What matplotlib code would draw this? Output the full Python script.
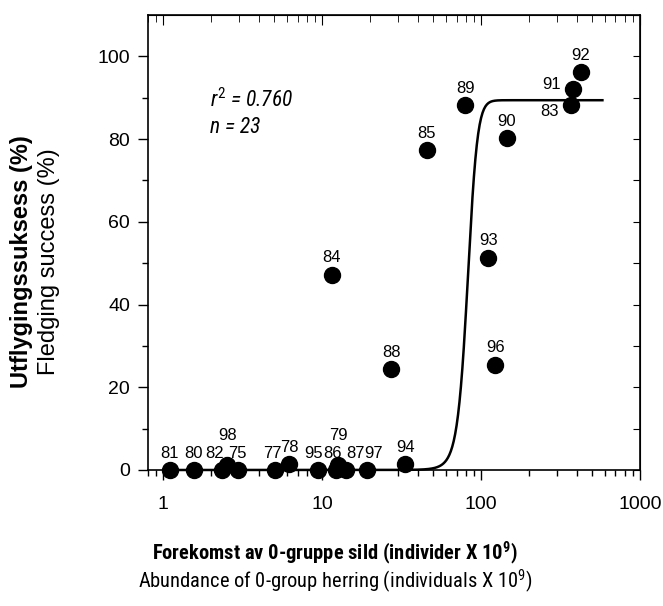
import matplotlib
matplotlib.use("Agg")
import matplotlib.pyplot as plt
import numpy as np

NARROW = 'Roboto Condensed'
plt.rcParams['font.family'] = ['Liberation Sans', 'DejaVu Sans']
plt.rcParams['mathtext.fontset'] = 'custom'
plt.rcParams['mathtext.rm'] = NARROW
plt.rcParams['mathtext.it'] = NARROW + ':italic'
plt.rcParams['mathtext.bf'] = NARROW + ':bold'

# year labels (19xx), herring abundance (x 10^9) and fledging success (%)
years = ['81', '80', '82', '98', '75', '77', '78', '95', '86', '79', '87', '97', '94',
         '84', '88', '85', '89', '93', '96', '90', '83', '91', '92']
abundance = [1.1, 1.55, 2.34, 2.52, 2.93, 5.06, 6.2, 9.35, 12.2, 12.6, 14.2, 19.1, 33.3,
             11.5, 27.2, 45.5, 79.3, 111, 123, 145, 368, 377, 424]
success = [0, 0, 0, 1.2, 0, 0, 1.4, 0, 0, 1.2, 0, 0, 1.4,
           47.2, 24.4, 77.3, 88.2, 51.3, 25.4, 80.2, 88.2, 92.2, 96.2]

# fitted sigmoid (as drawn in the figure)
fit_a, fit_x0, fit_b = 89.4, 82.0, 6.0
fit_range = (1.1, 580)

# label offsets in pixels where the default (straight above) is not used
label_offsets = {'82': (-7, 17), '98': (0, 30), '79': (0, 30), '87': (9, 17),
                 '97': (7, 17), '95': (-4, 17), '86': (-3, 17), '77': (-3, 17),
                 '83': (-22, -6), '91': (-21, 4)}

fig = plt.figure(figsize=(6.63, 6.06), dpi=100)
ax = fig.add_axes([148 / 663, 1 - 470 / 606, 492 / 663, 455 / 606])

xf = np.logspace(np.log10(fit_range[0]), np.log10(fit_range[1]), 600)
yf = fit_a / (1 + np.exp(-(xf - fit_x0) / fit_b))
ax.plot(xf, yf, color='black', lw=1.8, zorder=2, clip_on=False)

ax.plot(abundance, success, 'o', color='black', ms=11.5, zorder=3, clip_on=False)

for yr, xv, yv in zip(years, abundance, success):
    off = label_offsets.get(yr, (0, 17))
    ax.annotate(yr, (xv, yv), xytext=off, textcoords='offset pixels',
                ha='center', va='center', fontsize=12)

ax.set_xscale('log')
ax.set_xlim(0.8, 1000)
ax.set_ylim(0, 110)
ax.set_xticks([1, 10, 100, 1000])
ax.set_xticklabels(['1', '10', '100', '1000'])
ax.set_yticks([0, 20, 40, 60, 80, 100])
ax.set_yticks(np.arange(10, 110, 20), minor=True)

ax.tick_params(axis='both', which='major', labelsize=14, length=7, width=1, direction='out')
ax.tick_params(axis='both', which='minor', length=4, width=1, direction='out')
ax.tick_params(axis='x', which='major', pad=12)
ax.tick_params(axis='y', which='major', pad=6)

# top and right ticks point inward
top = ax.secondary_xaxis('top')
top.tick_params(axis='x', which='major', direction='in', length=7, labeltop=False)
top.tick_params(axis='x', which='minor', direction='in', length=5)
top.set_xticks([1, 10, 100, 1000])
top.set_xticklabels([])
right = ax.secondary_yaxis('right')
right.set_yticks(np.arange(0, 111, 10))
right.set_yticklabels([])
right.tick_params(axis='y', direction='in', length=5)

for sp in ax.spines.values():
    sp.set_linewidth(1.2)

ax.text(0.126, 0.813, r'$r^2$ = 0.760', transform=ax.transAxes, fontsize=15.5,
        style='italic', family=NARROW, va='center')
ax.text(0.126, 0.752, 'n = 23', transform=ax.transAxes, fontsize=15.5,
        style='italic', family=NARROW, va='center')

fig.text(335 / 663, 1 - 553 / 606, r'Forekomst av 0-gruppe sild (individer X 10$\mathbf{^9}$)',
         ha='center', va='center', fontsize=14.8, fontweight='bold', family=NARROW)
fig.text(335 / 663, 1 - 581 / 606, r'Abundance of 0-group herring (individuals X 10$^9$)',
         ha='center', va='center', fontsize=14.8, family=NARROW)
fig.text(22 / 663, 1 - 262 / 606, 'Utflygingssuksess (%)', rotation=90,
         ha='center', va='center', fontsize=17, fontweight='bold')
fig.text(49 / 663, 1 - 262 / 606, 'Fledging success (%)', rotation=90,
         ha='center', va='center', fontsize=17)

fig.savefig('out.png', dpi=100)
